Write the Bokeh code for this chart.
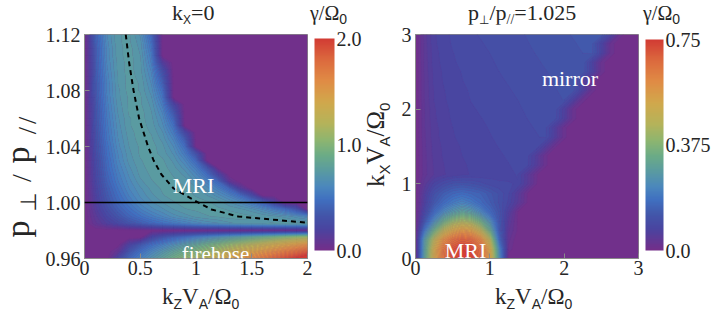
import numpy as np
from bokeh.plotting import figure
from bokeh.layouts import row, column
from bokeh.models import (ColorBar, CustomJSTickFormatter, Div, FixedTicker, Label,
                          LinearColorMapper, Range1d, Span)
from bokeh.embed import file_html
from bokeh.resources import INLINE

# ----------------------------------------------------------------- data
# left panel: gamma/Omega0 for kx = 0, rows = p_perp/p_par (bottom -> top)
kz_left = [0.0, 0.1, 0.2, 0.3, 0.4, 0.5, 0.6, 0.7, 0.8, 0.9, 1.0,
           1.1, 1.2, 1.3, 1.4, 1.5, 1.6, 1.7, 1.8, 1.9, 2.0]
p_ratio = [0.960, 0.965, 0.970, 0.975, 0.980, 0.985, 0.990, 0.995, 1.000,
           1.005, 1.010, 1.015, 1.020, 1.025, 1.030, 1.035, 1.040, 1.045,
           1.050, 1.055, 1.060, 1.065, 1.070, 1.075, 1.080, 1.085, 1.090,
           1.095, 1.100, 1.105, 1.110, 1.115, 1.120]
gamma_left = [
    [0, 0, 0, .24, .43, .57, .69, .80, .91, 1.02, 1.12, 1.22, 1.31, 1.42, 1.51, 1.61, 1.71, 1.81, 1.90, 1.99, 2.10],
    [0, 0, 0, .09, .34, .48, .60, .70, .80, .89, .98, 1.07, 1.15, 1.25, 1.33, 1.41, 1.50, 1.58, 1.67, 1.75, 1.84],
    [0, 0, 0, 0, .20, .35, .47, .56, .65, .73, .81, .89, .96, 1.04, 1.11, 1.18, 1.25, 1.32, 1.39, 1.46, 1.53],
    [0, 0, 0, 0, 0, 0, .24, .35, .43, .50, .57, .63, .69, .75, .80, .86, .91, .96, 1.02, 1.07, 1.12],
    [0, 0, 0, 0, 0, 0, 0, 0, 0, 0, 0, 0, 0, 0, 0, 0, 0, 0, 0, 0, 0],
    [0, .09, .17, .24, .32, .38, .44, .49, .53, .57, .61, .64, .66, .69, .71, .72, .73, .74, .75, .75, .75],
    [0, .12, .23, .33, .42, .49, .55, .60, .65, .68, .71, .73, .74, .75, .75, .74, .73, .71, .69, .65, .61],
    [0, .15, .28, .39, .48, .56, .62, .66, .70, .73, .74, .75, .74, .73, .71, .68, .63, .56, .48, .35, 0],
    [0, .17, .32, .44, .53, .61, .66, .70, .73, .75, .75, .74, .72, .67, .62, .54, .42, .22, 0, 0, 0],
    [0, .19, .35, .47, .57, .64, .69, .73, .75, .75, .73, .70, .65, .58, .47, .28, 0, 0, 0, 0, 0],
    [0, .20, .37, .50, .60, .66, .71, .74, .75, .74, .71, .65, .56, .43, .16, 0, 0, 0, 0, 0, 0],
    [0, .22, .40, .53, .62, .69, .73, .75, .74, .72, .66, .58, .44, .10, 0, 0, 0, 0, 0, 0, 0],
    [0, .23, .42, .55, .64, .71, .74, .75, .73, .69, .61, .48, .23, 0, 0, 0, 0, 0, 0, 0, 0],
    [0, .24, .44, .57, .66, .72, .75, .75, .71, .65, .54, .34, 0, 0, 0, 0, 0, 0, 0, 0, 0],
    [0, .25, .45, .59, .68, .73, .75, .74, .69, .60, .45, 0, 0, 0, 0, 0, 0, 0, 0, 0, 0],
    [0, .27, .47, .60, .69, .74, .75, .72, .66, .54, .32, 0, 0, 0, 0, 0, 0, 0, 0, 0, 0],
    [0, .28, .48, .62, .70, .74, .75, .71, .63, .48, 0, 0, 0, 0, 0, 0, 0, 0, 0, 0, 0],
    [0, .29, .50, .63, .71, .75, .74, .69, .59, .39, 0, 0, 0, 0, 0, 0, 0, 0, 0, 0, 0],
    [0, .30, .51, .64, .72, .75, .73, .67, .54, .26, 0, 0, 0, 0, 0, 0, 0, 0, 0, 0, 0],
    [0, .31, .52, .65, .73, .75, .72, .64, .49, 0, 0, 0, 0, 0, 0, 0, 0, 0, 0, 0, 0],
    [0, .32, .53, .66, .73, .75, .71, .62, .42, 0, 0, 0, 0, 0, 0, 0, 0, 0, 0, 0, 0],
    [0, .32, .54, .67, .74, .75, .70, .59, .34, 0, 0, 0, 0, 0, 0, 0, 0, 0, 0, 0, 0],
    [0, .33, .55, .68, .74, .74, .69, .55, .23, 0, 0, 0, 0, 0, 0, 0, 0, 0, 0, 0, 0],
    [0, .34, .56, .69, .74, .74, .67, .51, 0, 0, 0, 0, 0, 0, 0, 0, 0, 0, 0, 0, 0],
    [0, .35, .57, .69, .75, .73, .65, .47, 0, 0, 0, 0, 0, 0, 0, 0, 0, 0, 0, 0, 0],
    [0, .35, .57, .70, .75, .73, .63, .41, 0, 0, 0, 0, 0, 0, 0, 0, 0, 0, 0, 0, 0],
    [0, .36, .58, .70, .75, .72, .61, .35, 0, 0, 0, 0, 0, 0, 0, 0, 0, 0, 0, 0, 0],
    [0, .37, .59, .71, .75, .71, .59, .28, 0, 0, 0, 0, 0, 0, 0, 0, 0, 0, 0, 0, 0],
    [0, .37, .60, .71, .75, .71, .56, .16, 0, 0, 0, 0, 0, 0, 0, 0, 0, 0, 0, 0, 0],
    [0, .38, .61, .72, .75, .70, .54, 0, 0, 0, 0, 0, 0, 0, 0, 0, 0, 0, 0, 0, 0],
    [0, .38, .61, .72, .75, .69, .51, 0, 0, 0, 0, 0, 0, 0, 0, 0, 0, 0, 0, 0, 0],
    [0, .39, .62, .73, .74, .68, .48, 0, 0, 0, 0, 0, 0, 0, 0, 0, 0, 0, 0, 0, 0],
    [0, .40, .63, .73, .74, .66, .44, 0, 0, 0, 0, 0, 0, 0, 0, 0, 0, 0, 0, 0, 0],
]
# kz of fastest growth (dashed curve) and the isotropic line
kz_dash = [0.37, 0.40, 0.44, 0.49, 0.57, 0.62, 0.69, 0.80, 1.02, 1.14, 1.38, 2.00]
p_dash = [1.120, 1.100, 1.080, 1.060, 1.040, 1.030, 1.020, 1.010, 1.000, 0.995, 0.990, 0.9855]
isotropy = 1.0

# right panel: gamma/Omega0 for p_perp/p_par = 1.025, rows = kx (bottom -> top)
kz_right = [0, .125, .25, .375, .5, .625, .75, .875, 1.0, 1.125, 1.25, 1.375, 1.5,
            1.625, 1.75, 1.875, 2.0, 2.125, 2.25, 2.375, 2.5, 2.625, 2.75, 2.875, 3.0]
kx_right = [0, .125, .25, .375, .5, .625, .75, .875, 1.0, 1.125, 1.25, 1.375, 1.5,
            1.625, 1.75, 1.875, 2.0, 2.125, 2.25, 2.375, 2.5, 2.625, 2.75, 2.875, 3.0]
gamma_right = [
    [0, .30, .51, .645, .72, .75, .735, .67, .54, .25, 0, 0, 0, 0, 0, 0, 0, 0, 0, 0, 0, 0, 0, 0, 0],
    [0, .29, .50, .635, .71, .74, .725, .66, .52, .23, .02, 0, 0, 0, 0, 0, 0, 0, 0, 0, 0, 0, 0, 0, 0],
    [0, .28, .45, .58, .65, .68, .665, .60, .45, .17, .03, 0, 0, 0, 0, 0, 0, 0, 0, 0, 0, 0, 0, 0, 0],
    [0, .20, .34, .45, .52, .56, .54, .46, .33, .14, .04, .01, 0, 0, 0, 0, 0, 0, 0, 0, 0, 0, 0, 0, 0],
    [0, .13, .24, .33, .39, .42, .40, .34, .25, .13, .05, .01, 0, 0, 0, 0, 0, 0, 0, 0, 0, 0, 0, 0, 0],
    [0, .09, .17, .23, .27, .30, .28, .23, .17, .12, .065, .012, 0, 0, 0, 0, 0, 0, 0, 0, 0, 0, 0, 0, 0],
    [0, .07, .13, .17, .20, .22, .20, .17, .14, .11, .085, .05, .012, 0, 0, 0, 0, 0, 0, 0, 0, 0, 0, 0, 0],
    [0, .06, .11, .14, .16, .17, .16, .15, .13, .11, .09, .055, .013, 0, 0, 0, 0, 0, 0, 0, 0, 0, 0, 0, 0],
    [0, .045, .08, .10, .115, .12, .115, .105, .095, .09, .088, .087, .053, .013, 0, 0, 0, 0, 0, 0, 0, 0, 0, 0, 0],
    [0, .033, .051, .061, .068, .072, .076, .078, .081, .083, .086, .088, .054, .014, 0, 0, 0, 0, 0, 0, 0, 0, 0, 0, 0],
    [0, .034, .052, .062, .069, .073, .077, .08, .082, .085, .087, .09, .092, .057, .015, 0, 0, 0, 0, 0, 0, 0, 0, 0, 0],
    [0, .034, .054, .064, .071, .075, .079, .081, .084, .086, .089, .091, .094, .058, .015, 0, 0, 0, 0, 0, 0, 0, 0, 0, 0],
    [0, .035, .055, .065, .072, .076, .08, .083, .085, .088, .09, .093, .095, .098, .06, .015, 0, 0, 0, 0, 0, 0, 0, 0, 0],
    [0, .036, .057, .067, .074, .078, .082, .084, .087, .089, .092, .094, .097, .099, .102, .062, .016, 0, 0, 0, 0, 0, 0, 0, 0],
    [0, .037, .058, .068, .075, .079, .083, .086, .088, .091, .093, .096, .098, .101, .103, .063, .016, 0, 0, 0, 0, 0, 0, 0, 0],
    [0, .037, .06, .07, .077, .081, .085, .087, .09, .092, .095, .097, .10, .102, .105, .107, .066, .017, 0, 0, 0, 0, 0, 0, 0],
    [0, .038, .061, .071, .078, .082, .086, .089, .091, .094, .096, .099, .101, .104, .106, .109, .067, .017, 0, 0, 0, 0, 0, 0, 0],
    [0, .039, .063, .073, .08, .084, .088, .09, .093, .095, .098, .10, .103, .105, .108, .11, .113, .069, .018, 0, 0, 0, 0, 0, 0],
    [0, .04, .064, .074, .081, .085, .089, .092, .094, .097, .099, .102, .104, .107, .109, .112, .114, .117, .071, .018, 0, 0, 0, 0, 0],
    [0, .04, .066, .076, .083, .087, .091, .093, .096, .098, .101, .103, .106, .108, .111, .113, .116, .118, .072, .018, 0, 0, 0, 0, 0],
    [0, .041, .067, .077, .084, .088, .092, .095, .097, .10, .102, .105, .107, .11, .112, .115, .117, .12, .122, .075, .019, 0, 0, 0, 0],
    [0, .042, .069, .079, .086, .09, .094, .096, .099, .101, .104, .106, .109, .111, .114, .116, .119, .121, .124, .076, .019, 0, 0, 0, 0],
    [0, .043, .07, .08, .087, .091, .095, .098, .10, .103, .105, .108, .11, .113, .115, .118, .12, .123, .125, .128, .078, .02, 0, 0, 0],
    [0, .043, .072, .082, .089, .093, .097, .099, .102, .104, .107, .109, .112, .114, .117, .119, .122, .124, .127, .129, .079, .02, 0, 0, 0],
    [0, .044, .073, .083, .09, .094, .098, .101, .103, .106, .108, .111, .113, .116, .118, .121, .123, .126, .128, .131, .133, .081, .02, 0, 0],
]

# ticks and tick labels
left_xticks = [0, 0.5, 1, 1.5, 2]
left_xlabels = ["0", "0.5", "1", "1.5", "2"]
left_yticks = [0.96, 1.00, 1.04, 1.08, 1.12]
left_ylabels = ["0.96", "1.00", "1.04", "1.08", "1.12"]
right_ticks = [0, 1, 2, 3]
right_labels = ["0", "1", "2", "3"]
left_cb_ticks = [0.0, 1.0, 2.0]
left_cb_labels = ["0.0", "1.0", "2.0"]
right_cb_ticks = [0.0, 0.375, 0.75]
right_cb_labels = ["0.0", "0.375", "0.75"]
left_range = (0.0, 2.0)
right_range = (0.0, 0.75)

# ----------------------------------------------------------------- style
SERIF = "Liberation Serif"
SANS = "Liberation Sans"
SYM = "DejaVu Sans"
INK = "#262626"
FRAME = "#8a8a8a"
N_BANDS = 60
ASC = {SERIF: 0.891, SANS: 0.905, SYM: 0.928}
DESC = {SERIF: 0.216, SANS: 0.212, SYM: 0.236}

stops = [(0.00, "#742e89"), (0.10, "#4a44a0"), (0.17, "#4257aa"), (0.24, "#4070c0"),
         (0.30, "#4b87bd"), (0.38, "#5b9c9f"), (0.45, "#6cac86"), (0.52, "#8db570"),
         (0.60, "#b5b35a"), (0.70, "#d1a84c"), (0.80, "#e08c45"), (0.90, "#dc6a3e"),
         (1.00, "#d23b34")]


def colour_at(t):
    t = min(max(t, 0.0), 1.0)
    for (t0, c0), (t1, c1) in zip(stops[:-1], stops[1:]):
        if t0 <= t <= t1:
            f = (t - t0) / (t1 - t0)
            a = [int(c0[i:i + 2], 16) for i in (1, 3, 5)]
            b = [int(c1[i:i + 2], 16) for i in (1, 3, 5)]
            return "#%02x%02x%02x" % tuple(round(a[k] + f * (b[k] - a[k])) for k in range(3))
    return stops[-1][1]


PALETTE = [colour_at(i / 255) for i in range(256)]


def band_style(vrange, zmax):
    lo, hi = vrange
    lv = list(np.linspace(lo, hi, N_BANDS + 1))
    lv[0] = lo - 1e-6
    lv[-1] = max(hi, zmax) + 1e-6
    fills = [colour_at(((lv[i] + lv[i + 1]) / 2 - lo) / (hi - lo)) for i in range(N_BANDS)]
    lines = [fills[min(i, N_BANDS - 1)] for i in range(N_BANDS + 1)]
    return lv, fills, lines


def put(fig, origin, px, py, text, size, color="white"):
    fl, fb = origin
    fig.add_layout(Label(x=px - fl, y=fb - py, x_units="screen", y_units="screen",
                         text=text, text_font=SERIF, text_font_size=f"{size}px",
                         text_color=color, text_align="center", text_baseline="alphabetic"))


# ---------- HTML text blocks (titles, axis labels) with real sub-scripts
def sub(t, size, drop, font=SANS):
    return (f"<span style=\"font-family:'{font}';font-size:{size}px;"
            f"vertical-align:-{drop}px;line-height:0\">{t}</span>")


def span(mode, a, base, html, size, font=SERIF, extra=""):
    off = size * (1 + ASC[font] - DESC[font]) / 2
    css = (f"position:absolute;white-space:nowrap;font-family:'{font}';"
           f"font-size:{size}px;line-height:{size}px;color:{INK};{extra}")
    if mode == "h":          # a = left x, base = baseline y
        css += f"left:{a:.2f}px;top:{base - off:.2f}px;"
    elif mode == "up":       # a = start (bottom) y, base = baseline x
        css += (f"left:{base - off:.2f}px;top:{a:.2f}px;transform-origin:0 0;"
                "transform:rotate(-90deg);")
    else:                    # "upc": centred on y = a
        css += (f"left:{base - off:.2f}px;top:{a:.2f}px;transform-origin:0 0;"
                "transform:rotate(-90deg) translateX(-50%);")
    return mode, a, base, css, html


def text_box(width, height, ox, oy, items):
    parts = []
    for mode, a, base, css, html in items:
        # shift page coordinates into the box
        if mode == "h":
            css = css.replace(f"left:{a:.2f}px", f"left:{a - ox:.2f}px")
            css = css.replace("top:", "top:", 1)
        parts.append((mode, a, base, css, html))
    body = []
    for mode, a, base, css, html in parts:
        body.append(f'<span style="{css}">{html}</span>')
    inner = "".join(body)
    return Div(text=(f'<div style="position:relative;width:{width}px;height:{height}px;'
                     f'margin:0;padding:0;transform:translate({-ox}px,{-oy}px);">{inner}</div>'),
               width=width, height=height, margin=0)


def make_panel(width, bl, br, xr, yr):
    f = figure(width=width, height=260, x_range=Range1d(*xr), y_range=Range1d(*yr),
               min_border_left=bl, min_border_right=br, min_border_top=10,
               min_border_bottom=26, output_backend="svg", toolbar_location=None,
               tools="", title=None)
    f.grid.visible = False
    f.outline_line_color = FRAME
    f.background_fill_color = PALETTE[0]
    for ax in (f.xaxis[0], f.yaxis[0]):
        ax.major_tick_in = 5
        ax.major_tick_out = 0
        ax.minor_tick_line_color = None
        ax.major_tick_line_color = FRAME
        ax.axis_line_color = FRAME
        ax.major_label_text_font = SERIF
        ax.major_label_text_font_size = "20px"
        ax.major_label_text_color = INK
    f.xaxis[0].major_label_standoff = 2
    f.yaxis[0].major_label_standoff = 4
    return f


def set_ticks(ax, ticks, labels, code="return tick.toString();"):
    ax.ticker = FixedTicker(ticks=ticks)
    ax.formatter = CustomJSTickFormatter(code=code)
    ax.major_label_overrides = dict(zip(ticks, labels))


def add_cbar(fig, mapper, ticks, labels, loc, w, h):
    cb = ColorBar(color_mapper=mapper, ticker=FixedTicker(ticks=ticks),
                  formatter=CustomJSTickFormatter(code="return tick.toString();"),
                  major_label_overrides=dict(zip(ticks, labels)),
                  location=loc, width=w, height=h, padding=0, margin=0,
                  major_tick_line_color=None, minor_tick_line_color=None,
                  bar_line_color=None, border_line_color=None,
                  background_fill_color=None, label_standoff=2,
                  major_label_text_font=SERIF, major_label_text_font_size="20px",
                  major_label_text_color=INK)
    fig.add_layout(cb)


# ----------------------------------------------------------------- left panel
z1 = np.array(gamma_left, dtype=float)
p1 = make_panel(320, 41, 55, (kz_left[0], kz_left[-1]), (p_ratio[0], p_ratio[-1]))
set_ticks(p1.xaxis[0], left_xticks, left_xlabels)
set_ticks(p1.yaxis[0], left_yticks, left_ylabels, "return tick.toFixed(2);")
lv1, fills1, lines1 = band_style(left_range, z1.max())
p1.contour(x=kz_left, y=p_ratio, z=z1, levels=lv1, fill_color=fills1,
           line_color=lines1, line_width=0.5)
p1.add_layout(Span(location=isotropy, dimension="width", line_color="black", line_width=1.6))
p1.line(kz_dash, p_dash, line_color="black", line_width=2, line_dash="5 4")
m1 = LinearColorMapper(palette=PALETTE, low=left_range[0], high=left_range[1])
add_cbar(p1, m1, left_cb_ticks, left_cb_labels, (230, 8), 20, 212)
O1 = (83, 258)
put(p1, O1, 192, 185, "MRI", 22)
put(p1, O1, 214, 253, "firehose", 21)

# ----------------------------------------------------------------- right panel
z2 = np.array(gamma_right, dtype=float)
p2 = make_panel(318, 20, 75, (kz_right[0], kz_right[-1]), (kx_right[0], kx_right[-1]))
set_ticks(p2.xaxis[0], right_ticks, right_labels)
set_ticks(p2.yaxis[0], right_ticks, right_labels)
lv2, fills2, lines2 = band_style(right_range, z2.max())
p2.contour(x=kz_right, y=kx_right, z=z2, levels=lv2, fill_color=fills2,
           line_color=lines2, line_width=0.5)
m2 = LinearColorMapper(palette=PALETTE, low=right_range[0], high=right_range[1])
add_cbar(p2, m2, right_cb_ticks, right_cb_labels, (230, 8), 18, 211)
O2 = (415, 258)
put(p2, O2, 465, 250, "MRI", 22)
put(p2, O2, 569.5, 78, "mirror", 22)

# ----------------------------------------------------------------- text blocks
# all coordinates below are page pixels; each box is shifted back by its offset
W = 713
gam = "γ/Ω" + sub("0", 14, 4)
ktitle = "k" + sub("X", 12, 3.5) + "=0"
ptitle = "p" + sub("⊥", 12, 3.5, SYM) + "/p" + sub("//", 14, 4, SERIF) + "=1.025"
xlab = "k" + sub("Z", 14, 4.5) + "V" + sub("A", 14, 4.5) + "/Ω" + sub("0", 14, 4.5)
ylab_r = "k" + sub("X", 15, 6) + "V" + sub("A", 15, 6) + "/Ω" + sub("0", 15, 6)

top = text_box(W, 24, 0, 0, [
    span("h", 172, 20.5, ktitle, 22),
    span("h", 310, 20, gam, 20),
    span("h", 468, 20.5, ptitle, 22),
    span("h", 643, 20, gam, 20),
])
ylab1 = text_box(42, 260, 0, 24, [
    span("upc", 229, 29.6, "p", 34),
    span("upc", 201.5, 37, "⊥", 22, SYM),
    span("upc", 178, 31, "/", 28),
    span("upc", 155, 29.6, "p", 34),
    span("upc", 123.5, 37, "//", 26, extra="letter-spacing:3px;"),
])
ylab2 = text_box(33, 260, 362, 24, [
    span("up", 187, 384, ylab_r, 25),
])
bottom = text_box(W, 28, 0, 284, [
    span("h", 162, 304, xlab, 23),
    span("h", 495, 304, xlab, 23),
])

layout = column(top, row(ylab1, p1, ylab2, p2), bottom)
open("out.html", "w").write(file_html(layout, INLINE))
